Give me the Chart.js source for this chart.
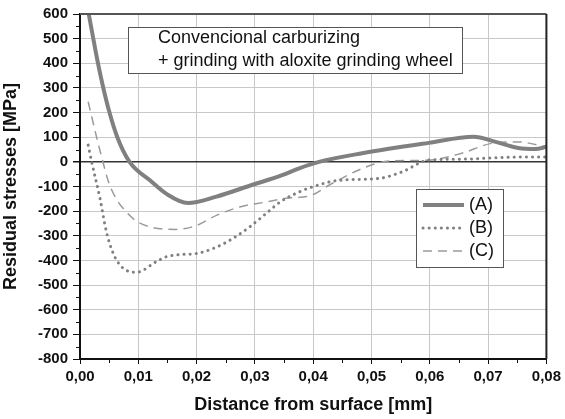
<!DOCTYPE html>
<html>
<head>
<meta charset="utf-8">
<script src="https://cdn.jsdelivr.net/npm/chart.js@4.4.1/dist/chart.umd.min.js"></script>
<style>
  html, body { margin: 0; padding: 0; background: #fff; }
</style>
</head>
<body>
<canvas id="stress_chart" width="565" height="419"></canvas>
<script>
// depth [mm] / residual stress [MPa]
const depthA = [0.0015, 0.0022, 0.003, 0.0039, 0.005, 0.0064, 0.0085, 0.012, 0.0149, 0.0185, 0.0234, 0.0291, 0.0348, 0.0376, 0.041, 0.0484, 0.0598, 0.0675, 0.0713, 0.0752, 0.0781, 0.08];
const stressA = [600, 510, 410, 310, 205, 100, 0, -75, -131, -167, -141, -97, -53, -26, 0, 35, 77, 102, 81, 56, 52, 61];

const depthB = [0.0014, 0.002, 0.0034, 0.0046, 0.0063, 0.0097, 0.0131, 0.0148, 0.0175, 0.02, 0.0234, 0.0262, 0.0291, 0.0319, 0.0345, 0.0376, 0.0398, 0.0444, 0.0513, 0.0552, 0.0598, 0.0655, 0.074, 0.08];
const stressB = [68, 0, -145, -291, -400, -448, -405, -385, -376, -372, -346, -311, -264, -210, -160, -122, -102, -75, -67, -41, 7, 11, 19, 20];

const depthC = [0.0014, 0.0029, 0.0036, 0.0051, 0.0085, 0.012, 0.0165, 0.02, 0.0234, 0.0274, 0.0319, 0.0353, 0.0398, 0.0427, 0.0484, 0.053, 0.0598, 0.0655, 0.0706, 0.0752, 0.0798];
const stressC = [244, 95, 30, -95, -217, -264, -274, -258, -217, -183, -163, -148, -135, -95, -27, 3, 7, 35, 75, 81, 61];

const seriesLabels = ['(A)', '(B)', '(C)'];
const noteLines = ['Convencional carburizing', '+ grinding with aloxite grinding wheel'];

const FONT = '"Liberation Sans", Arial, sans-serif';

function toPoints(xs, ys) {
    return xs.map((x, i) => ({ x: x, y: ys[i] }));
}

// minor ticks, frame, note box and legend
const decorations = {
    id: 'decorations',
    afterDraw(chart) {
        const ctx = chart.ctx;
        const a = chart.chartArea;
        const x = chart.scales.x, y = chart.scales.y;
        ctx.save();

        // minor ticks
        ctx.strokeStyle = '#111';
        ctx.lineWidth = 1;
        ctx.beginPath();
        for (let v = -750; v < 600; v += 100) {
            const py = Math.round(y.getPixelForValue(v)) + 0.5;
            ctx.moveTo(a.left - 4, py);
            ctx.lineTo(a.left, py);
        }
        for (let i = 0; i < 8; i++) {
            const px = Math.round(x.getPixelForValue(0.005 + i * 0.01)) + 0.5;
            ctx.moveTo(px, a.bottom);
            ctx.lineTo(px, a.bottom + 4);
        }
        ctx.stroke();

        // top and right frame
        ctx.strokeStyle = '#555';
        ctx.lineWidth = 2;
        ctx.beginPath();
        ctx.moveTo(a.left, a.top);
        ctx.lineTo(a.right, a.top);
        ctx.stroke();
        ctx.strokeStyle = '#222';
        ctx.beginPath();
        ctx.moveTo(a.right, a.top);
        ctx.lineTo(a.right, a.bottom);
        ctx.stroke();

        // note box
        ctx.fillStyle = '#fff';
        ctx.strokeStyle = '#555';
        ctx.lineWidth = 1;
        ctx.fillRect(128, 27, 334, 46);
        ctx.strokeRect(128.5, 27.5, 334, 46);
        ctx.fillStyle = '#111';
        ctx.font = '18px ' + FONT;
        ctx.textBaseline = 'middle';
        ctx.textAlign = 'left';
        ctx.fillText(noteLines[0], 158, 38);
        ctx.fillText(noteLines[1], 158, 61);

        // legend
        ctx.fillStyle = '#fff';
        ctx.fillRect(416, 189, 87, 78);
        ctx.strokeStyle = '#555';
        ctx.strokeRect(416.5, 189.5, 87, 78);
        chart.data.datasets.forEach((ds, i) => {
            const ly = 205 + i * 23;
            ctx.strokeStyle = ds.borderColor;
            ctx.lineWidth = ds.borderWidth;
            ctx.lineCap = ds.borderCapStyle || 'butt';
            ctx.setLineDash(ds.borderDash || []);
            ctx.beginPath();
            ctx.moveTo(423, ly);
            ctx.lineTo(464, ly);
            ctx.stroke();
            ctx.setLineDash([]);
            ctx.fillStyle = '#111';
            ctx.font = '18px ' + FONT;
            ctx.fillText(ds.label, 469, ly);
        });
        ctx.restore();
    }
};

const ctx = document.getElementById('stress_chart').getContext('2d');
new Chart(ctx, {
    type: 'line',
    data: {
        datasets: [{
            label: seriesLabels[0],
            data: toPoints(depthA, stressA),
            borderColor: '#808080',
            borderWidth: 4,
            pointRadius: 0,
            cubicInterpolationMode: 'monotone'
        }, {
            label: seriesLabels[1],
            data: toPoints(depthB, stressB),
            borderColor: '#808080',
            borderWidth: 3,
            borderDash: [0.1, 6],
            borderCapStyle: 'round',
            pointRadius: 0,
            cubicInterpolationMode: 'monotone'
        }, {
            label: seriesLabels[2],
            data: toPoints(depthC, stressC),
            borderColor: '#9a9a9a',
            borderWidth: 1.5,
            borderDash: [9, 6],
            pointRadius: 0,
            cubicInterpolationMode: 'monotone'
        }]
    },
    options: {
        responsive: false,
        animation: false,
        layout: { padding: { top: 14, right: 17, left: 0, bottom: 0 } },
        plugins: { legend: { display: false }, tooltip: { enabled: false } },
        scales: {
            x: {
                type: 'linear',
                min: 0,
                max: 0.08,
                afterFit: s => { s.height = 60; },
                grid: { color: '#c8c8c8', lineWidth: 1, tickLength: 5, tickColor: '#111' },
                border: { color: '#111', width: 2 },
                ticks: {
                    stepSize: 0.01,
                    padding: 4,
                    color: '#111',
                    font: { family: FONT, size: 15, weight: 'bold' },
                    callback: v => v.toFixed(2).replace('.', ',')
                },
                title: {
                    display: true,
                    text: 'Distance from surface [mm]',
                    color: '#111',
                    padding: { top: 0, bottom: 3 },
                    font: { family: FONT, size: 18, weight: 'bold' }
                }
            },
            y: {
                min: -800,
                max: 600,
                afterFit: s => { s.width = 80; },
                grid: {
                    color: c => c.tick && c.tick.value === 0 ? '#333' : '#c8c8c8',
                    lineWidth: c => c.tick && c.tick.value === 0 ? 1.5 : 1,
                    tickLength: 7,
                    tickColor: '#111'
                },
                border: { color: '#111', width: 2 },
                ticks: {
                    stepSize: 100,
                    padding: 5,
                    color: '#111',
                    font: { family: FONT, size: 15, weight: 'bold' }
                },
                title: {
                    display: true,
                    text: 'Residual stresses [MPa]',
                    color: '#111',
                    padding: { top: 0, bottom: 0 },
                    font: { family: FONT, size: 18, weight: 'bold' }
                }
            }
        }
    },
    plugins: [decorations]
});
</script>
</body>
</html>
